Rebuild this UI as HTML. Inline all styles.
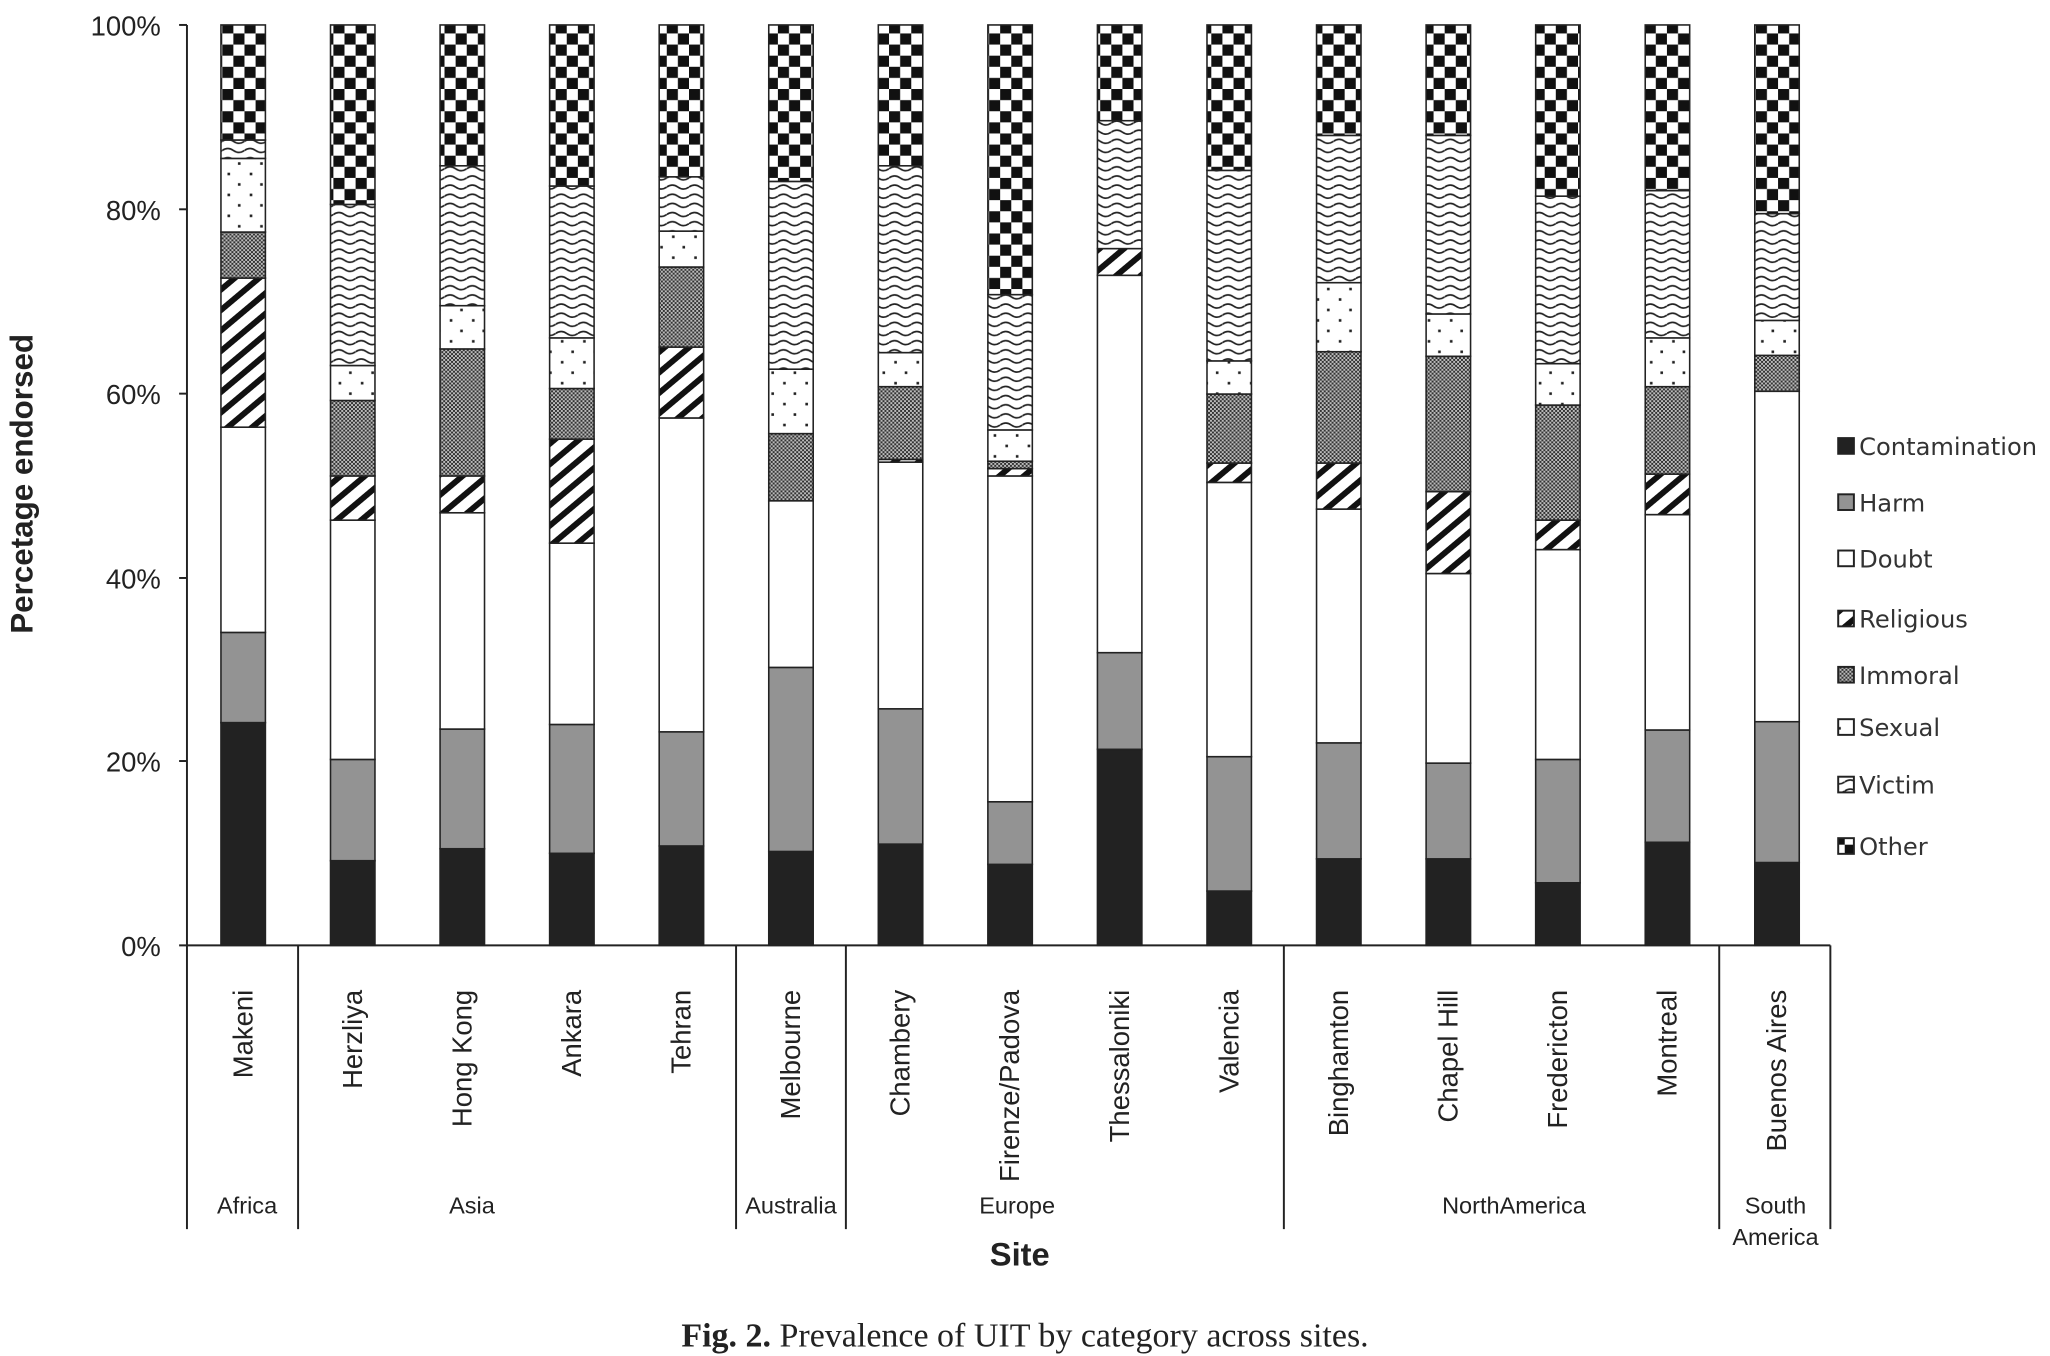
<!DOCTYPE html>
<html><head><meta charset="utf-8"><style>html,body{margin:0;padding:0;background:#fff}svg{display:block}</style></head>
<body>
<svg id="s" width="2050" height="1356" viewBox="0 0 1568 1037" xmlns="http://www.w3.org/2000/svg">
<defs>
<pattern id="rel" width="12" height="12" patternUnits="userSpaceOnUse" patternTransform="rotate(-40)">
<rect width="12" height="12" fill="#fff"/><rect width="12" height="4.5" fill="#111"/></pattern>
<pattern id="imm" width="3" height="3" patternUnits="userSpaceOnUse">
<rect width="3" height="3" fill="#bbb"/><rect width="1.5" height="1.5" fill="#333"/><rect x="1.5" y="1.5" width="1.5" height="1.5" fill="#333"/></pattern>
<pattern id="sex" width="17" height="16" patternUnits="userSpaceOnUse">
<rect width="17" height="16" fill="#fff"/><rect x="4" y="4" width="2" height="2" fill="#222"/><rect x="12" y="12" width="2" height="2" fill="#222"/></pattern>
<pattern id="vic" width="17" height="7" patternUnits="userSpaceOnUse">
<rect width="17" height="7" fill="#fff"/><path d="M0 3 Q4.25 0 8.5 3 T17 3" fill="none" stroke="#222" stroke-width="1.3"/></pattern>
<pattern id="oth" width="17" height="17" patternUnits="userSpaceOnUse">
<rect width="17" height="17" fill="#fff"/><rect width="8.5" height="8.5" fill="#111"/><rect x="8.5" y="8.5" width="8.5" height="8.5" fill="#111"/></pattern>
</defs>
<g id="bars"></g>
<g stroke="#222" stroke-width="1.5" fill="none">
<line x1="143" y1="19" x2="143" y2="940"/>
<line x1="137" y1="723" x2="1400" y2="723"/>
<line x1="137" y1="19" x2="143" y2="19"/><line x1="137" y1="160" x2="143" y2="160"/><line x1="137" y1="301" x2="143" y2="301"/><line x1="137" y1="442" x2="143" y2="442"/><line x1="137" y1="582" x2="143" y2="582"/>
<line x1="228" y1="723" x2="228" y2="940"/><line x1="563" y1="723" x2="563" y2="940"/><line x1="647" y1="723" x2="647" y2="940"/><line x1="982" y1="723" x2="982" y2="940"/><line x1="1315" y1="723" x2="1315" y2="940"/><line x1="1400" y1="723" x2="1400" y2="940"/>
</g>
<g font-family="Liberation Sans, sans-serif" font-size="21" fill="#222" text-anchor="end">
<text x="123" y="27">100%</text><text x="123" y="168">80%</text><text x="123" y="309">60%</text><text x="123" y="450">40%</text><text x="123" y="590">20%</text><text x="123" y="731">0%</text>
</g>
<text transform="translate(25,370) rotate(-90)" font-family="Liberation Sans, sans-serif" font-size="24" font-weight="bold" text-anchor="middle" fill="#222">Percetage endorsed</text>
<g id="labels" font-family="Liberation Sans, sans-serif" font-size="21" fill="#222" text-anchor="end"></g>
<g font-family="Liberation Sans, sans-serif" font-size="18" fill="#222" text-anchor="middle">
<text x="189" y="928">Africa</text><text x="361" y="928">Asia</text><text x="605" y="928">Australia</text><text x="778" y="928">Europe</text><text x="1158" y="928">NorthAmerica</text><text x="1358" y="928">South</text><text x="1358" y="952">America</text>
</g>
<text x="780" y="968" font-family="Liberation Sans, sans-serif" font-size="25" font-weight="bold" text-anchor="middle" fill="#222">Site</text>
<text x="784" y="1030" font-family="Liberation Serif, serif" font-size="26" text-anchor="middle" fill="#222"><tspan font-weight="bold">Fig. 2.</tspan> Prevalence of UIT by category across sites.</text>
<g id="legend" font-family="DejaVu Sans, sans-serif" font-size="18.5" fill="#333"></g>
</svg>
<script>
var NS="http://www.w3.org/2000/svg";
var fills=["#222","#939393","#fff","url(#rel)","url(#imm)","url(#sex)","url(#vic)","url(#oth)"];
var names=["Makeni","Herzliya","Hong Kong","Ankara","Tehran","Melbourne","Chambery","Firenze/Padova","Thessaloniki","Valencia","Binghamton","Chapel Hill","Fredericton","Montreal","Buenos Aires"];
var d=[[24.2,34,56.3,72.5,77.5,85.5,87.5,100],[9.2,20.2,46.2,51,59.2,63,80.5,100],[10.5,23.5,47,51,64.8,69.5,84.7,100],[10,24,43.7,55,60.5,66,82.5,100],[10.8,23.2,57.3,65,73.7,77.6,83.5,100],[10.2,30.2,48.3,48.3,55.6,62.6,83,100],[11,25.7,52.5,52.8,60.7,64.4,84.7,100],[8.8,15.6,51,51.8,52.6,56,70.7,100],[21.3,31.8,72.8,75.7,75.7,75.7,89.6,100],[5.9,20.5,50.3,52.4,59.9,63.5,84.2,100],[9.4,22,47.4,52.4,64.5,72,88,100],[9.4,19.8,40.4,49.3,64,68.6,88,100],[6.8,20.2,43,46.2,58.7,63.2,81.4,100],[11.2,23.4,46.8,51.2,60.7,66,82,100],[9,24.3,60.2,60.2,64.1,67.9,79.5,100]];
function Y(p){return 723-p*7.04;}
var bars=document.getElementById("bars"),labels=document.getElementById("labels");
for(var i=0;i<15;i++){var cx=186+i*83.8,prev=0;
for(var k=0;k<8;k++){var v=d[i][k];if(v>prev){var r=document.createElementNS(NS,"rect");r.setAttribute("x",cx-17);r.setAttribute("width",34);r.setAttribute("y",Y(v));r.setAttribute("height",Y(prev)-Y(v));r.setAttribute("fill",fills[k]);r.setAttribute("stroke","#222");r.setAttribute("stroke-width","1.2");bars.appendChild(r);}prev=v;}
var t=document.createElementNS(NS,"text");t.setAttribute("transform","translate("+(cx+7)+",757) rotate(-90)");t.textContent=names[i];labels.appendChild(t);}
var ln=["Contamination","Harm","Doubt","Religious","Immoral","Sexual","Victim","Other"],ly=[342,385,428,474,517,557,601,648],lg=document.getElementById("legend");
for(var k=0;k<8;k++){var r=document.createElementNS(NS,"rect");r.setAttribute("x",1406);r.setAttribute("y",ly[k]-7);r.setAttribute("width",12);r.setAttribute("height",12);r.setAttribute("fill",fills[k]);r.setAttribute("stroke","#222");r.setAttribute("stroke-width","1.5");lg.appendChild(r);
var t=document.createElementNS(NS,"text");t.setAttribute("x",1422);t.setAttribute("y",ly[k]+6);t.textContent=ln[k];lg.appendChild(t);}
</script>
</body></html>
